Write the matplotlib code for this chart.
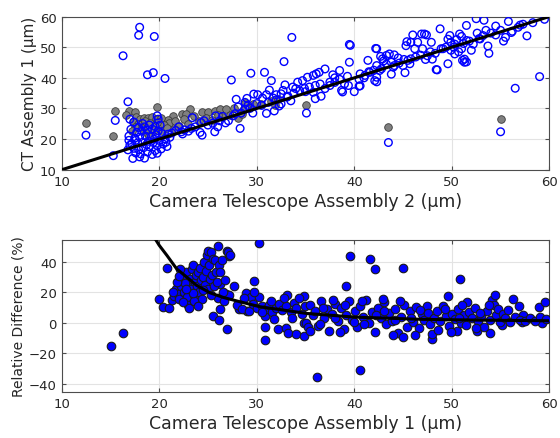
import matplotlib
matplotlib.use("Agg")
import matplotlib.pyplot as plt
import numpy as np

plt.rcParams['font.family'] = ['DejaVu Sans']

# ---------------- top panel data ----------------
blue_pts = [
    (12.5,21.3),(15.3,14.6),(15.5,26.1),(16.3,47.2),(16.8,32.2),(18.0,56.5),(17.9,53.9),(19.5,53.5),
    (18.8,41.0),(19.4,41.7),(20.6,39.8),(19.8,27.6),(17.0,26.5),(17.4,25.6),(16.9,21.0),(17.0,18.0),(16.8,16.5),
    (17.3,13.7),(18.5,13.8),(19.3,15.0),(17.6,15.5),(18.1,15.2),(18.8,15.8),(19.6,16.3),(20.2,16.8),(20.8,17.6),
    (17.4,17.0),(17.9,16.6),(18.4,17.2),(19.0,17.5),(19.8,17.9),(20.4,18.4),(17.2,18.5),(17.8,18.8),(18.3,19.0),
    (18.9,19.3),(19.4,18.9),(20.0,19.6),(20.6,20.1),(21.1,20.6),(17.5,20.3),(18.0,20.7),(18.6,21.0),(19.2,20.8),
    (19.7,21.4),(20.3,21.8),(17.7,22.2),(18.2,22.6),(18.8,22.9),(19.3,23.3),(19.9,22.7),(18.5,24.0),(19.0,24.6),
    (17.9,23.8),(19.6,24.1),(18.3,25.1),(17.6,19.6),(18.7,18.2),(19.5,20.0),(20.9,21.6),(21.3,22.0),(16.9,19.6),
    (17.1,23.2),(19.9,26.5),(20.1,24.6),(18.0,14.2),(19.8,15.4),(20.7,19.0),
    (22.3,22.4),(22.4,21.7),(22.6,23.0),(23.3,23.5),(23.0,22.6),(24.2,22.2),(24.4,21.3),(24.3,25.4),(24.6,26.0),
    (25.7,22.4),(25.5,25.2),(26.2,26.0),(26.5,27.4),(25.8,27.6),(27.1,26.0),(27.4,39.3),(27.6,27.6),(27.9,33.0),
    (28.3,23.5),(28.4,28.5),(29.0,33.3),(29.4,41.5),(29.6,28.5),(29.7,34.7),(28.8,29.8),(28.8,32.0),(29.1,31.0),
    (23.7,24.0),(25.0,24.6),(26.8,25.3),(23.4,27.0),(21.7,22.8),(22.0,24.0),(26.0,24.0),(27.8,28.3),(28.1,30.5),
    (29.3,30.0),(30.0,31.6),
    (32.8,45.3),(33.6,53.2),(39.5,50.9),(33.7,37.0),(34.2,38.6),(34.7,39.1),(35.2,40.2),(35.8,40.8),(36.1,41.3),
    (36.4,41.8),(37.0,42.9),(35.4,37.0),(35.8,35.3),(36.6,34.0),(36.0,33.2),(35.1,28.5),(37.5,38.6),(38.0,40.0),
    (38.7,35.9),(39.4,37.5),(40.0,35.5),(40.5,37.3),(39.5,45.1),(38.5,42.4),(37.8,41.0),(32.9,37.7),(32.7,35.9),
    (32.5,34.8),(33.1,33.7),(30.1,34.5),(30.6,33.4),(31.0,34.5),(31.3,36.0),(31.7,33.4),(32.0,34.5),(31.8,29.2),
    (30.8,41.8),(31.5,39.1),(30.5,31.0),(31.2,32.0),(32.0,32.8),(32.5,31.5),(33.2,34.0),(33.8,35.0),(34.4,35.8),
    (34.9,36.5),(33.5,32.5),(31.0,28.4),(32.3,30.8),
    (42.3,49.5),(41.4,45.7),(42.3,44.0),(42.9,46.2),(43.3,47.3),(43.6,47.8),(44.1,47.5),(43.8,45.1),(44.1,44.0),
    (42.6,42.4),(41.6,41.8),(41.1,40.8),(40.6,41.3),(42.1,39.1),(42.3,40.2),(45.0,44.0),(45.5,45.7),(45.8,46.2),
    (45.3,50.5),(45.8,51.6),(46.2,49.5),(46.9,54.3),(47.2,54.3),(46.5,51.6),(47.0,49.5),(47.9,51.6),(47.5,47.2),
    (48.0,46.1),(48.4,42.7),(48.8,56.0),(49.1,49.5),(49.6,44.6),(49.8,53.8),(49.9,51.6),(50.3,47.8),(50.8,54.3),
    (51.0,49.5),(51.1,45.7),(51.3,45.1),(51.5,57.1),(39.6,50.6),(38.8,35.4),(40.6,37.4),(42.3,38.7),(42.2,49.6),
    (45.4,51.8),(46.0,54.0),(47.4,54.0),(49.6,52.6),(48.5,42.6),(45.2,41.7),(43.8,41.2),
    (40.5,39.5),(41.0,40.0),(41.5,42.0),(42.0,42.5),(42.8,43.0),(43.3,44.5),(44.0,43.5),(44.6,44.8),(45.1,46.0),
    (45.7,44.6),(46.3,46.8),(46.8,47.4),(47.3,46.0),(47.8,48.5),(48.3,48.0),(48.9,49.5),(49.4,50.0),(49.9,49.0),
    (50.3,51.0),(37.5,37.5),(38.0,38.5),(38.5,39.5),(39.0,38.0),(39.3,40.5),(36.5,38.0),(37.0,36.5),(36.0,37.5),
    (35.0,35.5),(34.0,36.5),(44.5,46.5),(43.0,45.5),(42.7,47.0),
    (52.5,59.3),(53.3,58.8),(54.5,56.9),(55.8,58.4),(57.0,57.2),(57.7,53.7),(59.5,59.1),(59.0,40.4),(56.5,36.6),
    (53.7,50.4),(53.8,48.0),(51.3,46.1),(51.5,45.2),(55.3,52.0),(55.5,53.2),(56.1,54.8),(52.6,54.6),(54.0,54.6),
    (50.5,52.5),(51.0,53.5),(51.8,52.0),(52.2,51.0),(52.8,52.8),(53.2,53.8),(50.2,50.0),(51.2,51.2),(53.5,55.5),
    (54.5,54.0),(55.0,55.5),(56.8,56.5),(57.3,57.5),(58.3,58.0),(50.7,48.5),(52.0,49.0),(55.0,22.4),(43.5,18.9),
    (56.2,55.2),(52.9,52.7),(51.5,52.2),
]
blue_x = [p[0] for p in blue_pts]
blue_y = [p[1] for p in blue_pts]

grey_pts = [
    (12.5,25.4),(15.5,29.3),(15.3,20.9),(35.1,31.1),(43.5,23.9),(55.0,26.5),
    (16.9,29.2),(17.5,28.7),(19.8,30.4),(20.8,26.0),(22.3,28.2),(23.2,29.8),(24.4,29.0),(25.0,28.7),(25.7,29.2),
    (26.2,29.8),(26.9,29.8),(27.7,30.3),(28.1,26.8),(24.1,25.9),(22.8,28.1),(22.5,26.5),(21.4,27.6),(20.9,26.3),
    (17.6,27.2),(18.0,26.5),(18.4,27.0),(18.9,26.8),(19.3,27.3),(19.7,26.5),(20.2,26.9),(21.0,25.4),(17.3,25.5),
    (17.8,25.0),(18.5,25.8),(19.1,25.2),(19.9,25.6),(20.5,24.5),(17.5,24.0),(18.2,23.5),(19.5,23.0),(20.3,22.8),
    (18.8,22.0),(17.2,22.5),(19.0,21.0),(20.8,23.5),(21.6,25.8),(23.6,27.5),(24.8,27.0),(25.4,26.2),(26.4,27.3),
    (27.3,27.8),(28.6,29.5),(29.5,31.0),(30.4,31.5),(31.5,32.4),(32.2,33.0),(23.0,25.0),(22.0,24.2),(26.0,28.0),
    (28.8,31.8),(16.6,27.8),(21.5,23.3),(28.5,28.2),(29.6,31.4),(31.9,31.1),
]
grey_x = [p[0] for p in grey_pts]
grey_y = [p[1] for p in grey_pts]

line_x = [10, 60]
line_y = [10, 60]

# ---------------- bottom panel data ----------------
diff_pts = [
    (15.05,-15.2),(16.25,-6.5),(20.0,15.7),(20.4,10.4),(21.0,9.8),(20.8,36.1),(26.0,50.0),(30.2,52.2),(25.5,4.6),
    (26.1,1.7),(27.0,-4.1),(26.2,9.3),(26.2,25.6),(27.0,46.7),(27.2,44.0),(27.7,24.1),(26.9,19.1),(27.2,18.0),
    (29.7,27.4),(28.9,19.8),(29.4,17.0),(30.2,17.2),(28.2,9.3),(29.0,7.6),(30.9,-2.6),(30.9,-11.5),(30.9,4.6),
    (39.6,43.7),(41.6,41.9),(42.1,35.5),(45.0,36.1),(39.2,24.2),(36.2,-35.3),(40.6,-31.0),(34.8,17.5),(50.8,28.6),
    (49.6,17.7),(51.6,13.4),(56.3,15.6),(56.9,11.0),(57.3,5.2),(58.9,10.6),(59.6,13.8),(59.2,0.2),(48.0,-10.4),
    (48.0,-7.0),(50.5,-5.6),(52.6,-5.0),(53.9,-6.7),(55.1,-1.5),(57.2,0.3),
    (21.3,14.8),(21.7,22.4),(21.5,17.5),(21.9,19.0),(22.0,15.5),(22.2,24.0),(22.3,28.0),(22.5,20.5),(22.6,31.0),
    (22.8,33.5),(22.9,17.0),(23.0,12.0),(23.0,25.5),(23.1,10.0),(23.2,29.0),(23.3,22.0),(23.4,35.0),(23.5,37.7),
    (23.6,18.5),(23.7,27.0),(23.8,31.5),(23.9,24.0),(24.0,33.5),(24.1,20.0),(24.2,36.0),(24.3,28.0),(24.4,15.5),
    (24.5,30.0),(24.6,40.0),(24.7,25.0),(24.8,34.0),(24.9,44.2),(25.0,46.9),(25.0,22.0),(25.1,38.0),(25.2,28.5),
    (25.3,46.3),(25.4,31.0),(25.5,42.0),(25.6,24.0),(25.7,40.9),(25.8,33.0),(25.9,27.0),(26.0,16.0),(26.1,38.0),
    (26.4,40.9),(26.5,20.0),(26.6,14.0),(27.1,46.3),(27.3,44.2),(22.1,35.0),(22.7,26.0),(21.8,27.0),(22.4,13.5),
    (23.6,14.5),(24.0,11.0),(21.4,20.0),(22.0,30.5),(24.5,21.5),(25.3,18.5),(26.2,33.5),(26.8,28.0),(23.5,19.7),
    (22.8,22.0),
    (28.0,12.0),(28.5,9.0),(28.7,16.0),(29.2,8.0),(29.6,12.5),(30.0,10.0),(30.5,11.0),(31.0,9.0),(31.3,11.5),
    (31.6,7.0),(32.0,10.0),(32.3,12.5),(32.6,8.5),(33.0,11.0),(33.1,18.2),(33.5,7.0),(33.8,13.0),(34.0,9.5),
    (34.3,16.5),(34.6,5.5),(35.0,11.0),(32.2,-4.0),(33.0,-3.5),(33.6,3.0),(34.8,0.0),(31.8,2.5),(32.8,16.5),
    (29.7,20.0),(30.5,7.0),(31.5,14.0),(33.2,-6.7),(34.0,-7.1),(34.8,-8.9),(35.1,-0.3),
    (35.5,12.0),(35.8,5.0),(36.0,8.0),(36.3,-2.0),(36.6,14.0),(36.9,3.0),(37.2,9.0),(37.4,-5.5),(37.7,6.0),
    (38.0,12.5),(38.3,1.5),(38.6,9.5),(38.9,-4.0),(39.2,5.0),(39.5,14.5),(39.8,2.0),(40.1,8.0),(40.3,-3.0),
    (40.6,11.0),(40.9,4.0),(41.2,15.0),(41.5,0.0),(41.8,7.0),(42.1,-6.0),(42.4,10.0),(42.7,3.0),(43.0,13.5),
    (43.3,-1.0),(43.6,6.5),(43.9,1.0),(44.2,9.0),(44.5,-6.5),(44.8,4.0),(45.1,12.0),(45.4,-2.5),(45.7,7.5),
    (46.0,0.5),(46.3,10.5),(46.6,-3.5),(46.9,5.5),(47.2,2.0),(47.5,11.0),(47.8,-1.0),(35.3,-3.0),(35.5,-5.0),
    (36.5,-0.5),(37.8,15.0),(38.5,-6.0),(40.8,14.5),(42.9,15.5),(44.0,-8.0),(45.0,-9.0),(46.2,-8.0),(39.0,11.5),
    (41.0,-0.5),(43.0,8.0),(44.2,2.0),(45.8,3.0),(38.0,3.0),(36.8,10.0),(40.0,0.5),(42.2,5.0),(44.7,14.0),
    (46.7,8.5),(47.6,6.5),
    (48.2,3.0),(48.5,8.0),(48.8,1.0),(49.1,11.0),(49.4,4.5),(49.7,-2.0),(50.0,6.0),(50.3,2.5),(50.6,9.0),
    (50.9,0.0),(51.2,5.0),(51.5,-1.5),(51.8,7.0),(52.1,3.0),(52.4,10.0),(52.7,1.0),(53.0,4.5),(53.3,-2.5),
    (53.6,8.0),(53.9,2.0),(54.1,15.0),(54.3,12.0),(54.5,5.0),(54.7,9.0),(54.9,0.5),(55.2,6.0),(55.5,3.0),
    (56.0,0.5),(56.5,4.0),(57.0,2.0),(57.5,1.5),(58.0,3.5),(58.5,1.0),(59.0,4.0),(59.7,2.5),(48.6,-4.5),
    (49.9,-6.0),(51.0,12.0),(52.5,-3.5),(53.8,11.5),(54.4,18.0),(55.8,8.5),(49.3,9.0),(50.7,3.5),(52.9,6.5),
]
diff_x = [p[0] for p in diff_pts]
diff_y = [p[1] for p in diff_pts]

curve_x = [19.3, 19.6, 20.0, 20.8, 21.8, 22.8, 23.8, 25.2, 26.6, 28.3, 30.3, 32.7, 35.1, 40.0, 47.0, 53.0, 60.0]
curve_y = [57.0, 54.9, 50.8, 44.1, 35.3, 30.1, 24.7, 19.7, 16.6, 13.8, 10.6, 8.4, 6.2, 3.8, 2.3, 1.8, 1.4]

# ---------------- figure ----------------
TXT = '#262626'
fig = plt.figure(figsize=(5.6, 4.39), dpi=100)
ax1 = fig.add_axes([0.110, 0.611, 0.871, 0.349])
ax2 = fig.add_axes([0.110, 0.1055, 0.871, 0.3465])

def style(ax):
    ax.grid(True, color='#e3e3e3', linewidth=0.8)
    ax.set_axisbelow(True)
    for s in ax.spines.values():
        s.set_color('#4d4d4d')
        s.set_linewidth(0.8)
    ax.tick_params(direction='in', top=True, right=True, length=3, width=0.8,
                   colors='#4d4d4d', labelcolor=TXT, labelsize=9.5)

ax1.scatter(grey_x, grey_y, s=30, facecolor='#808080', edgecolor='#3a3a3a', linewidth=0.6, zorder=3)
ax1.scatter(blue_x, blue_y, s=30, facecolor='none', edgecolor='#0000ff', linewidth=1.0, zorder=4)
ax1.plot(line_x, line_y, color='black', linewidth=2.2, zorder=5)
ax1.set_xlim(10, 60)
ax1.set_ylim(10, 60)
ax1.set_xticks([10, 20, 30, 40, 50, 60])
ax1.set_yticks([10, 20, 30, 40, 50, 60])
ax1.set_xlabel('Camera Telescope Assembly 2 (μm)', fontsize=12.5, color=TXT, labelpad=3)
ax1.set_ylabel('CT Assembly 1 (μm)', fontsize=11, color=TXT, labelpad=2)
style(ax1)

ax2.scatter(diff_x, diff_y, s=38, facecolor='#0000ff', edgecolor='#1a1a1a', linewidth=0.8, zorder=3)
ax2.plot(curve_x, curve_y, color='black', linewidth=2.2, zorder=4)
ax2.set_xlim(10, 60)
ax2.set_ylim(-45, 54.5)
ax2.set_xticks([10, 20, 30, 40, 50, 60])
ax2.set_yticks([-40, -20, 0, 20, 40])
ax2.set_xlabel('Camera Telescope Assembly 1 (μm)', fontsize=12.5, color=TXT, labelpad=3)
ax2.set_ylabel('Relative Difference (%)', fontsize=10, color=TXT, labelpad=2)
style(ax2)

fig.savefig('out.png', dpi=100)
